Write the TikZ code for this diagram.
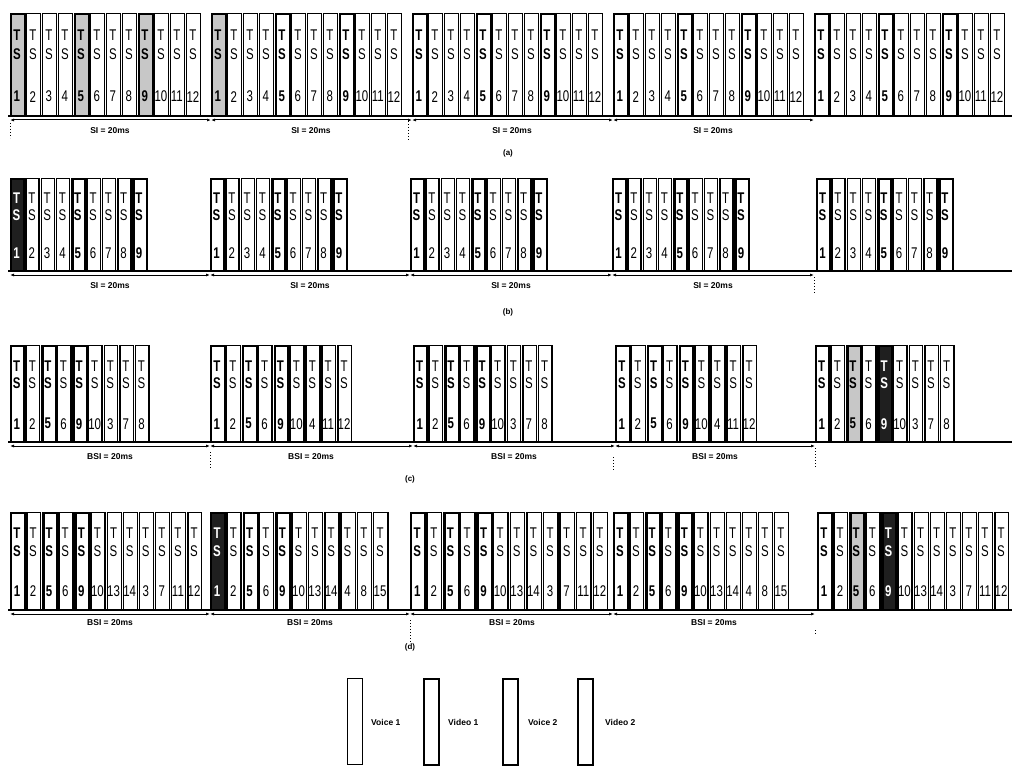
\documentclass[tikz,border=0pt]{standalone}
\usepackage{fontspec}
\setmainfont{Liberation Sans}
\usetikzlibrary{arrows.meta}
\tikzset{
  slot/.style={draw, line width=1.4pt, rectangle, inner sep=0pt, anchor=north west},
  vslot/.style={draw, line width=2.3pt, rectangle, inner sep=0pt, anchor=north west},
  stext/.style={inner sep=0pt, anchor=center},
  baseln/.style={line width=1.5pt},
  dim/.style={line width=1pt, {Latex[length=4pt,width=3pt]}-{Latex[length=4pt,width=3pt]}},
  tickln/.style={line width=1pt, dotted},
  lab/.style={inner sep=0pt, font=\fontsize{8.5}{9}\selectfont\bfseries},
  captext/.style={inner sep=0pt, font=\fontsize{8}{9}\selectfont\bfseries},
  legbox/.style={draw, rectangle, inner sep=0pt, anchor=north west, minimum width=15pt, minimum height=86pt},
  legtext/.style={inner sep=0pt, font=\fontsize{8.5}{9}\selectfont\bfseries}
}
\newcommand\nt[1]{\scalebox{0.74}[1]{#1}}
\newcommand\fsz{\fontsize{15.5}{15.5}\selectfont}
% dark and speckled slots
\expandafter\def\csname dkb-1-1\endcsname{}
\expandafter\def\csname dkd-2-1\endcsname{}
\expandafter\def\csname dkc-5-5\endcsname{}
\expandafter\def\csname dkd-5-5\endcsname{}
\expandafter\def\csname gra-1-1\endcsname{}
\expandafter\def\csname gra-1-5\endcsname{}
\expandafter\def\csname gra-1-9\endcsname{}
\expandafter\def\csname gra-2-1\endcsname{}
\expandafter\def\csname grc-5-3\endcsname{}
\expandafter\def\csname grd-5-3\endcsname{}
% #1 row, #2 frame, #3 x0, #4 ytop, #5 height, #6 slot pitch, #7 numbers
\newcommand\framerow[7]{%
  \foreach \n [count=\i] in {#7} {%
    \pgfmathsetmacro\xx{#3+(\i-1)*#6}%
    \pgfmathsetmacro\xc{\xx+#6/2-1.1}%
    \pgfmathsetmacro\ww{#6-2.2}%
    \pgfmathsetmacro\yT{#4+0.22*#5}%
    \pgfmathsetmacro\yS{#4+0.40*#5}%
    \pgfmathsetmacro\yN{#4+0.82*#5}%
    \pgfmathtruncatemacro\isv{(\n==1)||(\n==5)||(\n==9)}%
    \ifcsname dk#1-#2-\i\endcsname
      \def\fc{black!88}\def\tc{white}%
    \else
      \ifcsname gr#1-#2-\i\endcsname
        \def\fc{black!22}\def\tc{black}%
      \else
        \def\fc{white}\def\tc{black}%
      \fi
    \fi
    \ifnum\isv=1
      \def\fw{\bfseries}%
      \node[vslot, fill=\fc, minimum width=\ww pt, minimum height=#5 pt] (#1-#2-\i) at (\xx,#4) {};
    \else
      \def\fw{\mdseries}%
      \node[slot, fill=\fc, minimum width=\ww pt, minimum height=#5 pt] (#1-#2-\i) at (\xx,#4) {};
    \fi
    \node[stext, text=\tc] (#1-#2-\i-t) at (\xc,\yT) {\fsz\fw\nt{T}};
    \node[stext, text=\tc] (#1-#2-\i-s) at (\xc,\yS) {\fsz\fw\nt{S}};
    \node[stext, text=\tc] (#1-#2-\i-n) at (\xc,\yN) {\fsz\fw\nt{\n}};
  }%
}
\begin{document}
\begin{tikzpicture}[x=1pt, y=-1pt]
\useasboundingbox (0,0) rectangle (1016,767);

% ---------------- row (a) ----------------
\framerow{a}{1}{10}{13}{102}{16}{1,2,3,4,5,6,7,8,9,10,11,12}
\framerow{a}{2}{211}{13}{102}{16}{1,2,3,4,5,6,7,8,9,10,11,12}
\framerow{a}{3}{412}{13}{102}{16}{1,2,3,4,5,6,7,8,9,10,11,12}
\framerow{a}{4}{613}{13}{102}{16}{1,2,3,4,5,6,7,8,9,10,11,12}
\framerow{a}{5}{814}{13}{102}{16}{1,2,3,4,5,6,7,8,9,10,11,12}
\coordinate (aL) at (8,116);
\coordinate (aR) at (1012,116);
\draw[baseln] (aL) -- (aR);
\foreach \k/\x in {1/10,2/211,3/412,4/613,5/814} \coordinate (a-s\k) at (\x,120);
\foreach \k in {1,2,3,4} {\pgfmathtruncatemacro\kk{\k+1}\draw[dim] (a-s\k) -- (a-s\kk);}
\node[lab] (a-l1) at (110,131) {SI = 20ms};
\node[lab] (a-l2) at (311,131) {SI = 20ms};
\node[lab] (a-l3) at (512,131) {SI = 20ms};
\node[lab] (a-l4) at (713,131) {SI = 20ms};
\coordinate (a-t1a) at (10,123); \coordinate (a-t1b) at (10,138);
\coordinate (a-t2a) at (408,121); \coordinate (a-t2b) at (408,141);
\draw[tickln] (a-t1a) -- (a-t1b);
\draw[tickln] (a-t2a) -- (a-t2b);
\node[captext] (capa) at (508,153) {(a)};

% ---------------- row (b) ----------------
\framerow{b}{1}{10}{178}{92}{15.3}{1,2,3,4,5,6,7,8,9}
\framerow{b}{2}{210}{178}{92}{15.3}{1,2,3,4,5,6,7,8,9}
\framerow{b}{3}{410}{178}{92}{15.3}{1,2,3,4,5,6,7,8,9}
\framerow{b}{4}{612}{178}{92}{15.3}{1,2,3,4,5,6,7,8,9}
\framerow{b}{5}{816}{178}{92}{15.3}{1,2,3,4,5,6,7,8,9}
\coordinate (bL) at (8,271);
\coordinate (bR) at (1012,271);
\draw[baseln] (bL) -- (bR);
\foreach \k/\x in {1/10,2/210,3/410,4/612,5/814} \coordinate (b-s\k) at (\x,275);
\foreach \k in {1,2,3,4} {\pgfmathtruncatemacro\kk{\k+1}\draw[dim] (b-s\k) -- (b-s\kk);}
\node[lab] (b-l1) at (110,286) {SI = 20ms};
\node[lab] (b-l2) at (310,286) {SI = 20ms};
\node[lab] (b-l3) at (511,286) {SI = 20ms};
\node[lab] (b-l4) at (713,286) {SI = 20ms};
\coordinate (b-t1a) at (814,277); \coordinate (b-t1b) at (814,294);
\draw[tickln] (b-t1a) -- (b-t1b);
\node[captext] (capb) at (508,312) {(b)};

% ---------------- row (c) ----------------
\framerow{c}{1}{10}{345}{96}{15.6}{1,2,5,6,9,10,3,7,8}
\framerow{c}{2}{210}{345}{96}{15.9}{1,2,5,6,9,10,4,11,12}
\framerow{c}{3}{413}{345}{96}{15.6}{1,2,5,6,9,10,3,7,8}
\framerow{c}{4}{615}{345}{96}{15.9}{1,2,5,6,9,10,4,11,12}
\framerow{c}{5}{815}{345}{96}{15.6}{1,2,5,6,9,10,3,7,8}
\coordinate (cL) at (8,442);
\coordinate (cR) at (1012,442);
\draw[baseln] (cL) -- (cR);
\foreach \k/\x in {1/10,2/210,3/413,4/615,5/815} \coordinate (c-s\k) at (\x,446);
\foreach \k in {1,2,3,4} {\pgfmathtruncatemacro\kk{\k+1}\draw[dim] (c-s\k) -- (c-s\kk);}
\node[lab] (c-l1) at (110,457) {BSI = 20ms};
\node[lab] (c-l2) at (311,457) {BSI = 20ms};
\node[lab] (c-l3) at (514,457) {BSI = 20ms};
\node[lab] (c-l4) at (715,457) {BSI = 20ms};
\coordinate (c-t1a) at (210,452); \coordinate (c-t1b) at (210,470);
\coordinate (c-t2a) at (613,457); \coordinate (c-t2b) at (613,470);
\coordinate (c-t3a) at (815,448); \coordinate (c-t3b) at (815,467);
\draw[tickln] (c-t1a) -- (c-t1b);
\draw[tickln] (c-t2a) -- (c-t2b);
\draw[tickln] (c-t3a) -- (c-t3b);
\node[captext] (capc) at (410,479) {(c)};

% ---------------- row (d) ----------------
\framerow{d}{1}{10}{512}{97}{16.1}{1,2,5,6,9,10,13,14,3,7,11,12}
\framerow{d}{2}{210}{512}{97}{16.3}{1,2,5,6,9,10,13,14,4,8,15}
\framerow{d}{3}{410}{512}{97}{16.6}{1,2,5,6,9,10,13,14,3,7,11,12}
\framerow{d}{4}{613}{512}{97}{16.1}{1,2,5,6,9,10,13,14,4,8,15}
\framerow{d}{5}{817}{512}{97}{16.1}{1,2,5,6,9,10,13,14,3,7,11,12}
\coordinate (dL) at (8,610);
\coordinate (dR) at (1012,610);
\draw[baseln] (dL) -- (dR);
\foreach \k/\x in {1/10,2/210,3/410,4/613,5/815} \coordinate (d-s\k) at (\x,614);
\foreach \k in {1,2,3,4} {\pgfmathtruncatemacro\kk{\k+1}\draw[dim] (d-s\k) -- (d-s\kk);}
\node[lab] (d-l1) at (110,623) {BSI = 20ms};
\node[lab] (d-l2) at (310,623) {BSI = 20ms};
\node[lab] (d-l3) at (512,623) {BSI = 20ms};
\node[lab] (d-l4) at (714,623) {BSI = 20ms};
\coordinate (d-t1a) at (410,620); \coordinate (d-t1b) at (410,643);
\coordinate (d-t2a) at (815,630); \coordinate (d-t2b) at (815,634);
\draw[tickln] (d-t1a) -- (d-t1b);
\draw[tickln] (d-t2a) -- (d-t2b);
\node[captext] (capd) at (410,647) {(d)};

% ---------------- legend ----------------
\node[legbox, line width=1.4pt] (leg1) at (347,678) {};
\node[legtext, anchor=west] (leg1t) at (371,722) {Voice 1};
\node[legbox, line width=1.7pt] (leg2) at (423,678) {};
\node[legtext, anchor=west] (leg2t) at (448,722) {Video 1};
\node[legbox, line width=1.7pt] (leg3) at (502,678) {};
\node[legtext, anchor=west] (leg3t) at (528,722) {Voice 2};
\node[legbox, line width=2.3pt] (leg4) at (577,678) {};
\node[legtext, anchor=west] (leg4t) at (605,722) {Video 2};
\end{tikzpicture}
\end{document}
